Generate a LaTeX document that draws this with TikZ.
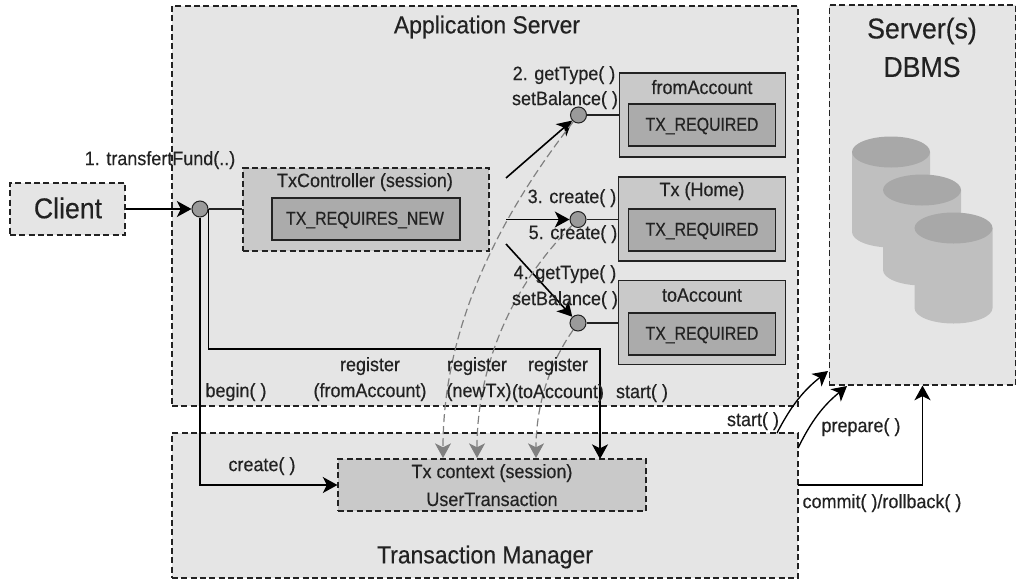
\documentclass[tikz,border=0pt]{standalone}
\usepackage{fontspec}
\setmainfont[FakeStretch=.93, FakeBold=.35]{Liberation Sans}
\newfontfamily\capsfont[FakeStretch=.85, FakeBold=.35]{Liberation Sans}
\usetikzlibrary{arrows.meta, calc, positioning, shapes.geometric}

\definecolor{paleGray}{HTML}{E5E5E5}
\definecolor{midGray}{HTML}{C9C9C9}
\definecolor{darkGray}{HTML}{ABABAB}
\definecolor{inkGray}{HTML}{222222}
\definecolor{storeBody}{HTML}{BFBFBF}
\definecolor{storeTop}{HTML}{A8A8A8}

\tikzset{
tier/.style={rectangle, draw=inkGray, fill=paleGray, line width=.8pt, dash pattern=on 4.5pt off 2.5pt, inner sep=0pt},
bean/.style={rectangle, draw=inkGray, fill=midGray, line width=.9pt, inner sep=0pt, minimum width=125pt, minimum height=63pt},
policy/.style={rectangle, draw=inkGray, fill=darkGray, line width=.9pt, inner sep=0pt, minimum width=110pt, minimum height=31.5pt},
stub/.style={circle, draw=inkGray, fill=darkGray!90!black, line width=.75pt, inner sep=0pt, minimum size=12pt},
lab/.style={text=inkGray, inner sep=0pt, yshift=-.8pt, font=\fontsize{14.5}{17}\selectfont},
caplab/.style={text=inkGray, inner sep=0pt, yshift=-.8pt, font=\capsfont\fontsize{14}{16}\selectfont},
title/.style={text=inkGray, inner sep=0pt, font=\fontsize{18.5}{22}\selectfont},
bigtitle/.style={text=inkGray, inner sep=0pt, font=\fontsize{21.5}{26}\selectfont},
call/.style={-{Stealth[length=11pt, width=12pt, inset=3pt]}, line width=1.2pt, color=black},
wire/.style={line width=1.2pt, color=inkGray},
enlist/.style={-{Stealth[length=11pt, width=12pt, inset=3pt]}, line width=.9pt, color=gray, dash pattern=on 6pt off 3pt},
}

\begin{document}
\begin{tikzpicture}[x=.75pt, y=-.75pt]
\useasboundingbox (0,0) rectangle (1017,579);

\node[tier, minimum width=469.5pt, minimum height=300pt]
(appServer) at (485, 206) {};

\node[tier, minimum width=140pt, minimum height=285pt]
(dbms) at (922.5, 195) {};

\node[tier, minimum width=469.5pt, minimum height=108.75pt]
(txManager) at (485, 505.5) {};

\node[tier, minimum width=86.25pt, minimum height=39pt]
(client) at (67.5, 209) {};

\node[tier, fill=midGray, minimum width=184.5pt, minimum height=62.25pt]
(txController) at (366, 209.5) {};

\node[rectangle, draw=inkGray, fill=darkGray, line width=.9pt, inner sep=0pt, minimum width=141pt, minimum height=31.5pt]
(requiresNew) at (366, 219) {};

\node[bean] (fromAccount) at (702.5, 115) {};
\node[policy] (fromPolicy) at (702, 125) {};

\node[bean] (txHome) at (702, 219) {};
\node[policy] (homePolicy) at (702, 230) {};

\node[bean] (toAccount) at (702, 322.5) {};
\node[policy] (toPolicy) at (702, 334) {};

\node[tier, fill=midGray, minimum width=231pt, minimum height=39pt]
(txContext) at (492, 485) {};

\foreach \cx/\cy in {891/152, 922/190, 953.5/228} {
\fill[storeBody] (\cx-39, \cy) -- (\cx-39, \cy+80)
arc[start angle=180, end angle=0, x radius=39, y radius=15.5] -- (\cx+39, \cy) -- cycle;
\fill[storeTop] (\cx, \cy) ellipse[x radius=39, y radius=15.5];
}

\node[stub] (txStub) at (200, 209) {};
\node[stub] (fromStub) at (578.5, 115) {};
\node[stub] (homeStub) at (578, 219.5) {};
\node[stub] (toStub) at (578, 323) {};

\coordinate (ctlTop) at (506, 178);
\coordinate (ctlMid) at (506, 219.5);
\coordinate (ctlLow) at (506, 244);
\coordinate (regOne) at (443, 458);
\coordinate (regTwo) at (477, 458);
\coordinate (regThree) at (536, 458);
\coordinate (startEntry) at (600, 459);
\coordinate (startOut) at (777, 433);
\coordinate (startIn) at (828, 371);
\coordinate (prepOut) at (798, 448);
\coordinate (prepIn) at (847, 386);
\coordinate (commitOut) at (798, 485);

\draw[wire] (fromStub) -- (fromAccount.west |- fromStub);
\draw[wire] (homeStub) -- (txHome.west |- homeStub);
\draw[wire] (toStub) -- (toAccount.west |- toStub);
\draw[wire] (txStub) -- (txController.west |- txStub);

\draw[call] (client) -- (txStub);
\draw[call] (ctlTop) -- (fromStub);
\draw[call] (ctlMid) -- (homeStub);
\draw[call] (ctlLow) -- (toStub);
\draw[call] (txStub.east) -- ++(0, 140) -| (startEntry);
\draw[call] (txStub.south) |- (txContext.west);
\draw[call, line width=1pt] (startOut) to[bend left=12] (startIn);
\draw[call, line width=1pt] (prepOut) to[bend left=12] (prepIn);
\draw[call] (commitOut) -| (dbms.south);

\draw[enlist] (fromStub) to[out=232, in=90, looseness=.9] (regOne);
\draw[enlist] (homeStub) to[out=225, in=90, looseness=.9] (regTwo);
\draw[enlist] (toStub) to[out=235, in=90, looseness=.9] (regThree);

\node[title] (appTitle) at (487, 27) {Application Server};
\node[bigtitle] (srvTitle) at (922, 31) {Server(s)};
\node[bigtitle] (dbmsTitle) at (922, 67) {DBMS};
\node[title] (mgrTitle) at (485, 557) {Transaction Manager};
\node[bigtitle] (clientTitle) at (68, 208) {Client};

\node[lab] (transferLab) at (160, 159) {1. transfertFund(..)};
\node[lab] (ctlLab) at (365, 181) {TxController (session)};
\node[caplab] (newLab) at (365, 219) {TX\_REQUIRES\_NEW};

\node[lab] (getOne) at (564, 74) {2. getType( )};
\node[lab] (setOne) at (565, 99) {setBalance( )};
\node[lab] (createOne) at (572, 197) {3. create( )};
\node[lab] (createTwo) at (573, 233) {5. create( )};
\node[lab] (getTwo) at (565, 273) {4. getType( )};
\node[lab] (setTwo) at (565, 299) {setBalance( )};

\node[lab] (fromLab) at (702, 86) {fromAccount};
\node[caplab] at (fromPolicy) {TX\_REQUIRED};
\node[lab] (homeLab) at (702, 190) {Tx (Home)};
\node[caplab] at (homePolicy) {TX\_REQUIRED};
\node[lab] (toLab) at (702, 294) {toAccount};
\node[caplab] at (toPolicy) {TX\_REQUIRED};

\node[lab] (regA) at (370, 365) {register};
\node[lab] (regAwho) at (370, 391) {(fromAccount)};
\node[lab] (regB) at (477, 365) {register};
\node[lab] (regBwho) at (479, 391) {(newTx)};
\node[lab] (regC) at (558, 365) {register};
\node[lab] (regCwho) at (558, 392) {(toAccount)};
\node[lab] (startA) at (642, 392) {start( )};
\node[lab] (beginLab) at (236, 391) {begin( )};
\node[lab] (createLab) at (262, 465) {create( )};

\node[lab] (ctxLab) at (492, 472) {Tx context (session)};
\node[lab] (utLab) at (492, 498) {UserTransaction};

\node[lab] (startB) at (753, 420) {start( )};
\node[lab] (prepLab) at (861, 426) {prepare( )};
\node[lab] (commitLab) at (882, 502) {commit( )/rollback( )};

\end{tikzpicture}
\end{document}
